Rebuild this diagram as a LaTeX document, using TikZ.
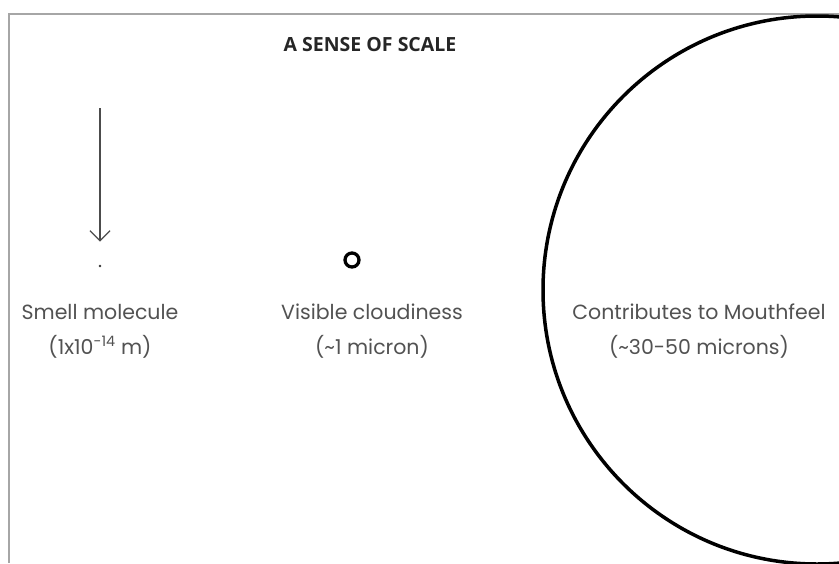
\documentclass[tikz,border=0pt]{standalone}
\usepackage{fontspec}
\newfontfamily\labelfont{Poppins}
\newfontfamily\titlefont{Open Sans}
\usetikzlibrary{arrows.meta}

\begin{document}
\begin{tikzpicture}[x=1pt,y=-1pt,
		size label/.style={align=center,text=black!68,font=\labelfont\fontsize{20.5}{35}\selectfont},
		particle/.style={circle,draw=black,inner sep=0pt},
		thick line/.style={line width=1.2pt,draw=black!70}]
	\path[use as bounding box,clip] (0,0) rectangle (839,563);
	\fill[white] (0,0) rectangle (839,563);
	% frame
	\draw[black!35,line width=1.5pt] (9,563) -- (9,14) -- (839,14);

	\node[font=\titlefont\bfseries\fontsize{19.5}{22}\selectfont,text=black!85] (title) at (370,45) {A SENSE OF SCALE};

	% smell molecule
	\node[particle,fill=black!80,minimum size=2.6pt,draw=none] (molecule) at (100,266) {};
	\coordinate (arrowtop) at (100,108);
	\draw[thick line,-{Straight Barb[length=10pt,width=20pt,line width=1.2pt]},shorten >=23pt] (arrowtop) -- (molecule);
	\node[size label] (molecule label) at (100,331) {Smell molecule\\(1x10\textsuperscript{-14} m)};

	% visible cloudiness
	\node[particle,line width=3.3pt,minimum size=14pt] (cloud) at (352,260) {};
	\node[size label] (cloud label) at (372,331) {Visible cloudiness\\(\textasciitilde1 micron)};

	% mouthfeel
	\node[particle,line width=3.5pt,minimum size=548pt] (mouthfeel) at (817,290) {};
	\node[size label] (mouthfeel label) at (699,331) {Contributes to Mouthfeel\\(\textasciitilde30-50 microns)};
\end{tikzpicture}
\end{document}
